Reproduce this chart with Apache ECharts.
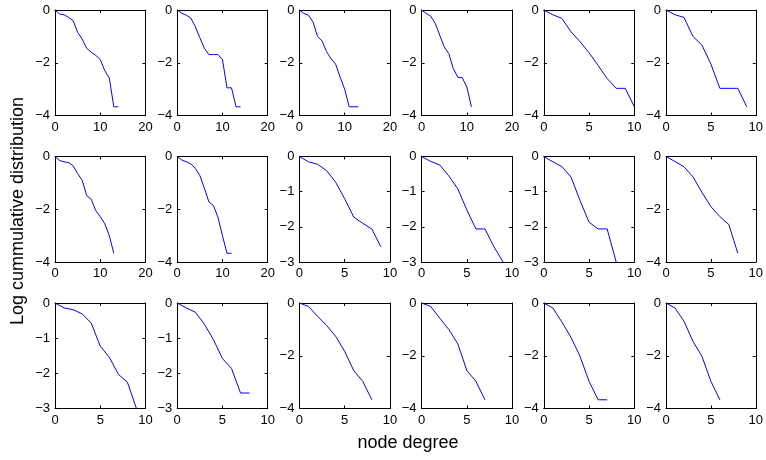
<!DOCTYPE html>
<html>
<head>
<meta charset="utf-8">
<script src="https://cdn.jsdelivr.net/npm/echarts@6/dist/echarts.min.js"></script>
<style>html,body{margin:0;padding:0;background:#fff}#c{width:766px;height:460px}</style>
</head>
<body>
<div id="c"></div>
<script>
// Log cumulative distribution values, index = node degree (0,1,2,...)
const p1  = [0,-0.15,-0.18,-0.28,-0.4,-0.85,-1.1,-1.45,-1.6,-1.72,-1.88,-2.3,-2.58,-3.67,-3.67];
const p2  = [0,-0.12,-0.2,-0.3,-0.63,-1.05,-1.45,-1.69,-1.69,-1.69,-1.87,-2.95,-2.95,-3.67,-3.67];
const p3  = [0,-0.13,-0.2,-0.45,-1.0,-1.17,-1.58,-1.85,-2.05,-2.55,-3.0,-3.67,-3.67,-3.67];
const p4  = [0,-0.13,-0.23,-0.5,-0.95,-1.4,-1.65,-2.22,-2.55,-2.57,-2.92,-3.67];
const p5  = [0,-0.18,-0.32,-0.82,-1.2,-1.62,-2.1,-2.6,-2.97,-2.97,-3.67];
const p6  = [0,-0.18,-0.28,-1.0,-1.33,-2.05,-2.97,-2.97,-2.97,-3.67];
const p7  = [0,-0.15,-0.2,-0.23,-0.35,-0.65,-0.9,-1.48,-1.62,-2.05,-2.28,-2.55,-3.0,-3.67];
const p8  = [0,-0.13,-0.2,-0.28,-0.45,-0.72,-1.2,-1.72,-1.86,-2.3,-3.0,-3.67,-3.67];
const p9  = [0,-0.15,-0.22,-0.4,-0.73,-1.2,-1.72,-1.9,-2.06,-2.57];
const p10 = [0,-0.14,-0.24,-0.55,-0.92,-1.52,-2.06,-2.06,-2.57,-3.0];
const p11 = [0,-0.15,-0.29,-0.58,-1.25,-1.87,-2.06,-2.06,-3.0];
const p12 = [0,-0.19,-0.39,-0.77,-1.36,-1.9,-2.28,-2.58,-3.67];
const p13 = [0,-0.14,-0.19,-0.31,-0.57,-1.23,-1.54,-2.03,-2.25,-3.0];
const p14 = [0,-0.14,-0.26,-0.6,-1.04,-1.58,-1.86,-2.56,-2.56];
const p15 = [0,-0.13,-0.5,-0.85,-1.26,-1.83,-2.56,-2.97,-3.67];
const p16 = [0,-0.13,-0.57,-1.0,-1.55,-2.56,-2.97,-3.67];
const p17 = [0,-0.19,-0.72,-1.3,-2.02,-2.97,-3.67,-3.67];
const p18 = [0,-0.19,-0.69,-1.45,-2.02,-2.97,-3.67];
const panels = [p1,p2,p3,p4,p5,p6,p7,p8,p9,p10,p11,p12,p13,p14,p15,p16,p17,p18];

// axis ranges per panel
const xMaxes = [20,20,20,20,10,10, 20,20,10,10,10,10, 10,10,10,10,10,10];
const yMins  = [-4,-4,-4,-4,-4,-4, -4,-4,-3,-3,-3,-4, -3,-3,-4,-4,-4,-4];

const yTitle = 'Log cummulative distribution';
const xTitle = 'node degree';

const FONT = 'Liberation Sans, Arial, Helvetica, sans-serif';
const chart = echarts.init(document.getElementById('c'), null, {renderer:'canvas'});

const grids = [], xAxes = [], yAxes = [], series = [];
const fmt = v => String(v).replace('-', '\u2212');
panels.forEach((vals, i) => {
  const r = Math.floor(i / 6), c = i % 6;
  const left = 55 + c * 122.2, top = 10 + r * 146.5;
  grids.push({left: left, top: top, width: 90.5, height: 105.5, show: false});
  const xm = xMaxes[i], ym = yMins[i];
  const xi = xm === 20 ? 10 : 5, yi = ym === -3 ? 1 : 2;
  const tick = {show: true, inside: true, length: 3, lineStyle: {color: '#000', width: 1}};
  const line = {show: true, onZero: false, lineStyle: {color: '#000', width: 1}};
  xAxes.push({type: 'value', gridIndex: i, min: 0, max: xm, interval: xi, position: 'bottom',
    axisLine: line, axisTick: tick, splitLine: {show: false},
    axisLabel: {color: '#000', fontSize: 13, fontFamily: FONT, margin: 5, formatter: fmt, showMinLabel: true, showMaxLabel: true}});
  xAxes.push({type: 'value', gridIndex: i, min: 0, max: xm, interval: xi, position: 'top',
    axisLine: line, axisTick: tick, splitLine: {show: false}, axisLabel: {show: false}});
  yAxes.push({type: 'value', gridIndex: i, min: ym, max: 0, interval: yi, position: 'left',
    axisLine: line, axisTick: tick, splitLine: {show: false},
    axisLabel: {color: '#000', fontSize: 13, fontFamily: FONT, margin: 5, formatter: fmt, showMinLabel: true, showMaxLabel: true}});
  yAxes.push({type: 'value', gridIndex: i, min: ym, max: 0, interval: yi, position: 'right',
    axisLine: line, axisTick: tick, splitLine: {show: false}, axisLabel: {show: false}});
  series.push({type: 'line', xAxisIndex: 2 * i, yAxisIndex: 2 * i,
    data: vals.map((v, k) => [k, v]), showSymbol: false, symbol: 'none',
    lineStyle: {color: '#0000ff', width: 1}, animation: false, clip: false});
});

chart.setOption({
  animation: false,
  grid: grids, xAxis: xAxes, yAxis: yAxes, series: series,
  graphic: [
    {type: 'text', x: 18, y: 211, rotation: Math.PI / 2,
     style: {text: yTitle, font: '18px ' + FONT, fill: '#000', align: 'center', verticalAlign: 'middle'}},
    {type: 'text', x: 408, y: 443,
     style: {text: xTitle, font: '18px ' + FONT, fill: '#000', align: 'center', verticalAlign: 'middle'}}
  ]
});
</script>
</body>
</html>
